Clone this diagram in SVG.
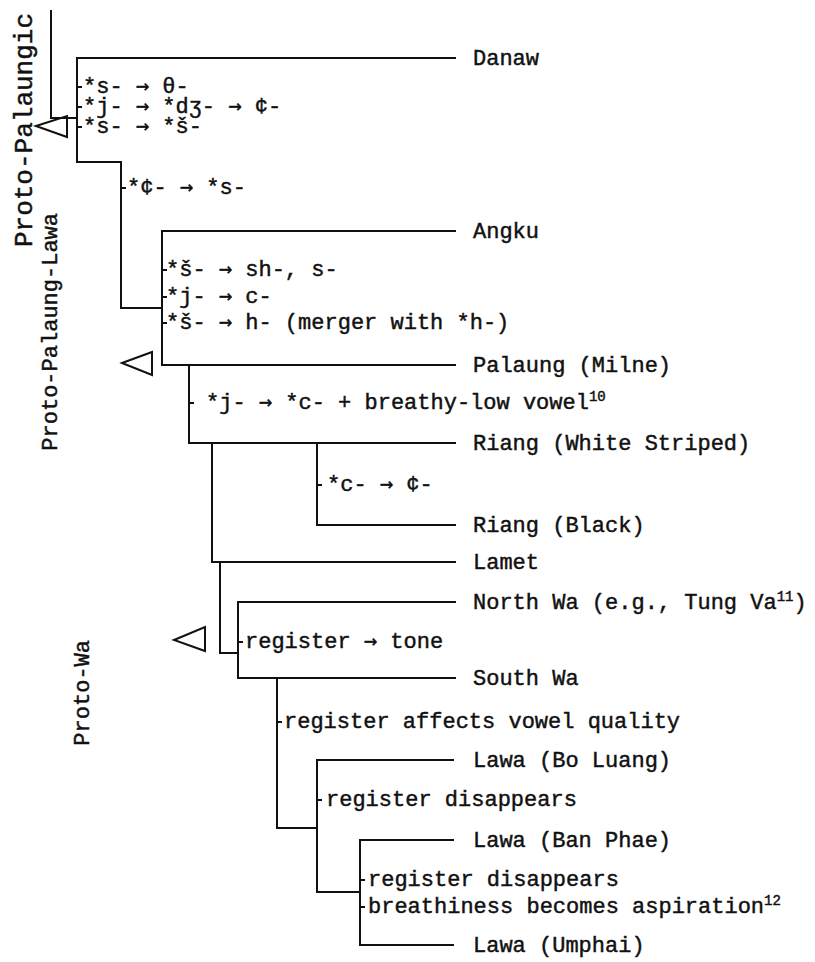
<svg xmlns="http://www.w3.org/2000/svg" width="815" height="962" viewBox="0 0 815 962">
<style>
  .ln { fill: none; stroke: #111; stroke-width: 2; stroke-linecap: square; }
  .tri { fill: none; stroke: #111; stroke-width: 2; stroke-linejoin: miter; }
  text { font-family: "Liberation Mono", "DejaVu Sans Mono", monospace; font-size: 22px; fill: #111; stroke: #111; stroke-width: 0.45; }
  .rot { font-size: 22px; text-anchor: end; }
  .rotb { font-size: 26px; }
  .sup { font-size: 14px; }
  .ar { font-family: "DejaVu Sans Mono", "Liberation Mono", monospace; }
</style>
<rect width="815" height="962" fill="#ffffff"/>

<g id="connectors">
  <path class="ln" d="M51,11 V118 H77"/>
  <path class="ln" d="M455,58 H77 V162 H121 V308 H162"/>
  <path class="ln" d="M455,231 H162 V365 H455"/>
  <path class="ln" d="M189,365 V443 H455"/>
  <path class="ln" d="M212,443 V562 H455"/>
  <path class="ln" d="M317,443 V525 H455"/>
  <path class="ln" d="M220,562 V653 H238"/>
  <path class="ln" d="M455,602 H238 V678 H455"/>
  <path class="ln" d="M277,678 V828 H317"/>
  <path class="ln" d="M453,760 H317 V892 H360"/>
  <path class="ln" d="M453,840 H360 V945 H453"/>
  <path class="ln" d="M77,87 h4 M77,107 h4 M77,127 h4 M121,188 h4 M162,270 h4 M162,297 h4 M162,323 h4 M189,403 h4 M317,485 h4 M238,642 h4 M277,722 h4 M317,800 h4 M360,880 h4 M360,907 h4"/>
</g>

<g id="proto-palaungic">
  <polygon class="tri" points="36,126 67,116 67,137"/>
  <text class="rot rotb" transform="translate(32,13) rotate(-90)">Proto-Palaungic</text>
</g>
<g id="proto-palaung-lawa">
  <polygon class="tri" points="122,363 152,352 152,375"/>
  <text class="rot" transform="translate(57,213) rotate(-90)">Proto-Palaung-Lawa</text>
</g>
<g id="proto-wa">
  <polygon class="tri" points="174,640 205,627 205,651"/>
  <text class="rot" transform="translate(89,640) rotate(-90)">Proto-Wa</text>
</g>

<g id="changes-danaw">
  <text x="83" y="93">*s- <tspan class="ar">→</tspan> θ-</text>
  <text x="83" y="113">*j- <tspan class="ar">→</tspan> *dʒ- <tspan class="ar">→</tspan> ¢-</text>
  <text x="83" y="133">*s- <tspan class="ar">→</tspan> *š-</text>
</g>
<g id="change-ppl">
  <text x="127" y="194">*¢- <tspan class="ar">→</tspan> *s-</text>
</g>
<g id="changes-angku">
  <text x="166" y="276">*š- <tspan class="ar">→</tspan> sh-, s-</text>
  <text x="166" y="303">*j- <tspan class="ar">→</tspan> c-</text>
  <text x="166" y="329">*š- <tspan class="ar">→</tspan> h- (merger with *h-)</text>
</g>
<g id="change-riang">
  <text x="206" y="409">*j- <tspan class="ar">→</tspan> *c- + breathy-low vowel<tspan class="sup" dy="-8">10</tspan></text>
</g>
<g id="change-riang-black">
  <text x="327" y="491">*c- <tspan class="ar">→</tspan> ¢-</text>
</g>
<g id="change-wa">
  <text x="245" y="648">register <tspan class="ar">→</tspan> tone</text>
</g>
<g id="change-south-wa">
  <text x="284" y="728">register affects vowel quality</text>
</g>
<g id="change-lawa">
  <text x="326" y="806">register disappears</text>
</g>
<g id="change-lawa2">
  <text x="368" y="886">register disappears</text>
  <text x="368" y="913">breathiness becomes aspiration<tspan class="sup" dy="-8">12</tspan></text>
</g>

<g id="leaf-danaw"><text x="473" y="65">Danaw</text></g>
<g id="leaf-angku"><text x="473" y="238">Angku</text></g>
<g id="leaf-palaung"><text x="473" y="372">Palaung (Milne)</text></g>
<g id="leaf-riang-white"><text x="473" y="450">Riang (White Striped)</text></g>
<g id="leaf-riang-black"><text x="473" y="532">Riang (Black)</text></g>
<g id="leaf-lamet"><text x="473" y="569">Lamet</text></g>
<g id="leaf-north-wa"><text x="473" y="609">North Wa (e.g., Tung Va<tspan class="sup" dy="-8">11</tspan><tspan dy="8">)</tspan></text></g>
<g id="leaf-south-wa"><text x="473" y="685">South Wa</text></g>
<g id="leaf-lawa-bo-luang"><text x="473" y="767">Lawa (Bo Luang)</text></g>
<g id="leaf-lawa-ban-phae"><text x="473" y="847">Lawa (Ban Phae)</text></g>
<g id="leaf-lawa-umphai"><text x="473" y="952">Lawa (Umphai)</text></g>
</svg>
